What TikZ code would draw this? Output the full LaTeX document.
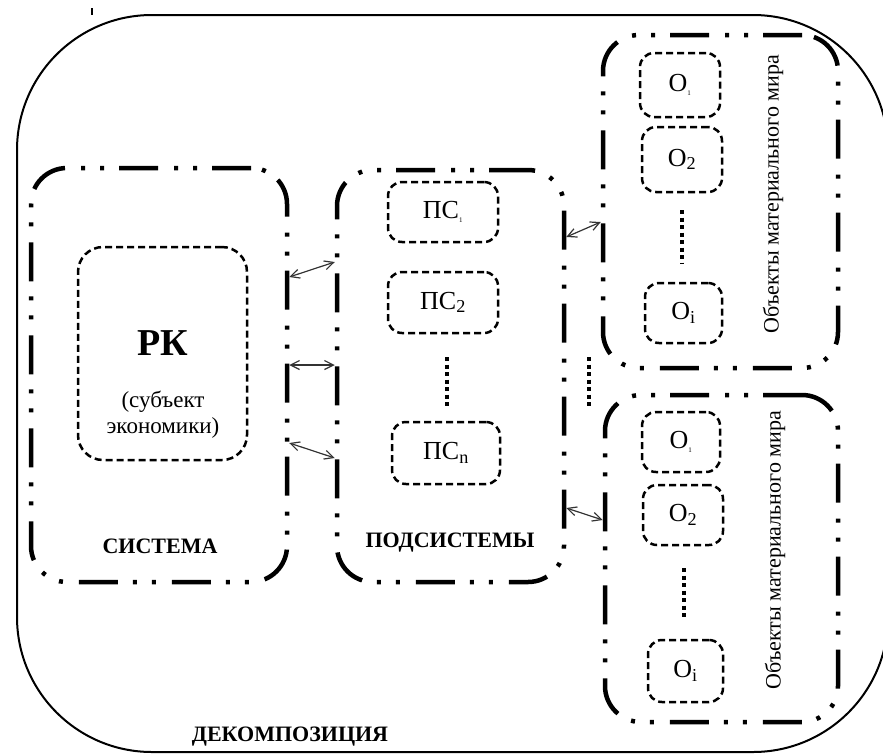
\documentclass[tikz,border=0pt]{standalone}
\usepackage{fontspec}
\setmainfont{Liberation Serif}
\usetikzlibrary{arrows.meta, calc}

\begin{document}
\begin{tikzpicture}[x=1pt, y=-1pt,
    frame/.style={draw, line width=2pt, rounded corners=135pt},
    block/.style={draw, line width=4.5pt, rounded corners=36pt, inner sep=0pt,
        dash pattern=on 39pt off 15pt on 4pt off 15pt on 4pt off 16pt},
    unit/.style={draw, line width=2.5pt, rounded corners=14pt, inner sep=0pt,
        dash pattern=on 7pt off 4pt, font=\fontsize{26}{30}\selectfont},
    link/.style={{Straight Barb[length=9pt,width=9pt]}-{Straight Barb[length=9pt,width=9pt]},
        line width=1.2pt, black!80},
    dotline/.style={line width=4pt, dash pattern=on 4pt off 3.5pt},
    caption/.style={font=\fontsize{22}{26}\selectfont\bfseries},
    side/.style={rotate=90, font=\fontsize{22}{26}\selectfont}
]
\useasboundingbox (0,0) rectangle (883,753);
\clip (0,0) rectangle (883,753);

% Декомпозиция (внешняя рамка)
\draw[frame] (17,15) rectangle (888,752);
\draw[line width=2pt] (92,8) -- (92,15);
\node[caption] (dec) at (290,737) {ДЕКОМПОЗИЦИЯ};

% Система
\node[block, minimum width=256pt, minimum height=414pt] (sys) at (159,375) {};
\node[unit, rounded corners=25pt, minimum width=169pt, minimum height=213pt, align=center] (rk) at (162.5,353.5) {};
\node[font=\fontsize{38}{42}\selectfont\bfseries] (rkname) at (163,343) {РК};
\node[font=\fontsize{23}{26}\selectfont, align=center] (rktext) at (163,415) {(субъект\\экономики)};
\node[caption] (syscap) at (160,546) {СИСТЕМА};

% Подсистемы
\node[block, minimum width=227pt, minimum height=412pt] (sub) at (450.5,376) {};
\node[unit, minimum width=110pt, minimum height=60pt] (ps1) at (443,212) {ПС\textsubscript{\scriptsize 1}};
\node[unit, minimum width=110pt, minimum height=61pt] (ps2) at (443,302.5) {ПС\textsubscript{2}};
\node[unit, minimum width=108pt, minimum height=62pt] (psn) at (446,453) {ПС\textsubscript{n}};
\draw[dotline] (447,357) -- (447,408);
\node[caption] (subcap) at (450,543) {ПОДСИСТЕМЫ};

% Объекты материального мира
\node[block, minimum width=235pt, minimum height=333pt] (obja) at (720.5,201.5) {};
\node[unit, minimum width=80pt, minimum height=64pt] (o1a) at (680,85) {O\textsubscript{\scriptsize 1}};
\node[unit, minimum width=80pt, minimum height=65pt] (o2a) at (682,159.5) {O\textsubscript{2}};
\node[unit, minimum width=77pt, minimum height=60pt] (oia) at (683.5,313) {O\textsubscript{i}};
\draw[dotline] (682,210) -- (682,263);
\node[side] (sidea) at (773,194) {Объекты материального мира};

\node[block, minimum width=233pt, minimum height=327pt] (objb) at (721.5,558.5) {};
\node[unit, minimum width=78pt, minimum height=60pt] (o1b) at (681,442) {O\textsubscript{\scriptsize 1}};
\node[unit, minimum width=80pt, minimum height=60pt] (o2b) at (683,515) {O\textsubscript{2}};
\node[unit, minimum width=75pt, minimum height=62pt] (oib) at (685.5,671) {O\textsubscript{i}};
\draw[dotline] (684,568) -- (684,618);
\node[side] (sideb) at (775,550) {Объекты материального мира};

\draw[dotline] (589,357) -- (589,408);

% Связи
\draw[link] (sys.east |- 0,277) -- (sub.west |- 0,262);
\draw[link] (sys.east |- 0,365) -- (sub.west |- 0,365);
\draw[link] (sys.east |- 0,443) -- (sub.west |- 0,458);
\draw[link] (sub.east |- 0,237) -- (obja.west |- 0,222);
\draw[link] (sub.east |- 0,508) -- (objb.west |- 0,520);

\end{tikzpicture}
\end{document}
